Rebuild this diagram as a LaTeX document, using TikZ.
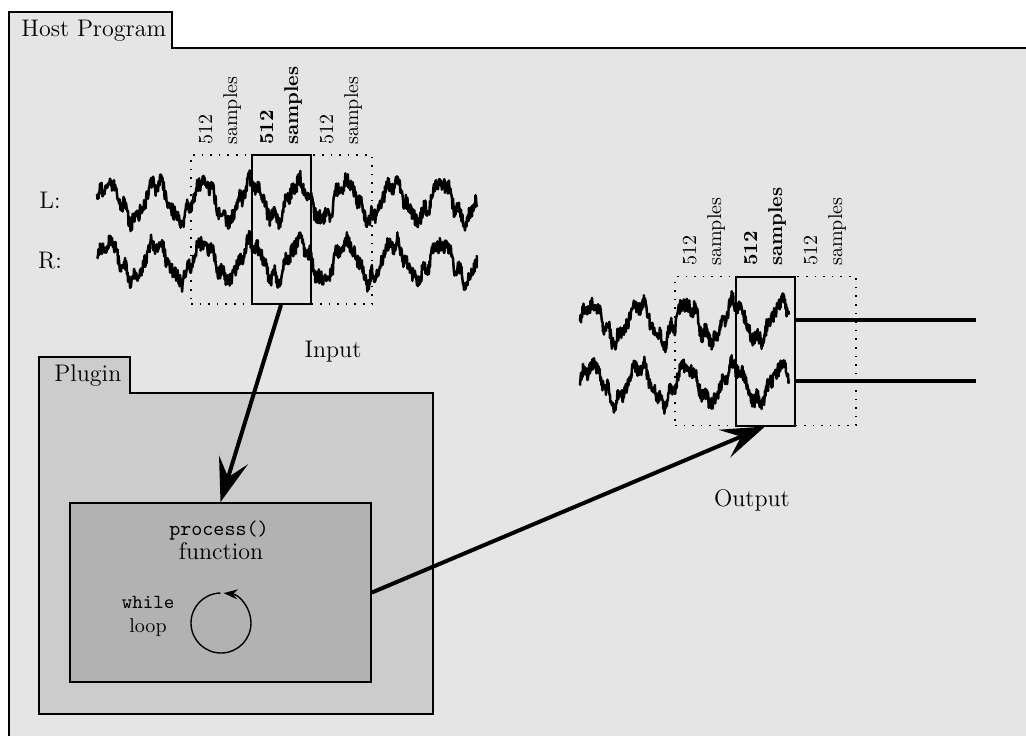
\documentclass[tikz,border=0pt]{standalone}
\usepackage{xcolor}
\usepackage{tikz}
\usetikzlibrary{positioning, arrows.meta}

\definecolor{hostgray}{gray}{0.90}
\definecolor{plugingray}{gray}{0.80}
\definecolor{processgray}{gray}{0.70}

% noisy sine from x=#1 to x=#2 around height #3, #4 samples
\newcommand{\noisywave}[4]{
  \draw[wave] plot[domain=#1:#2, samples=#4]
    (\x, {#3 + 18*sin(7.58*(\x-#1)) + 4*sin(29*(\x-#1)) + 3*sin(41*(\x-#1)) + 15*(rnd-0.5)});
}

\begin{document}
\begin{tikzpicture}[
        x=0.5pt,
        y=0.5pt,
        every node/.style={font=\fontsize{12}{14}\selectfont},
        folder/.style={draw, line width=0.9pt},
        wave/.style={line width=1.25pt, line join=round},
        block/.style={rectangle, draw, line width=1pt, minimum width=29.5pt,
        minimum height=74.5pt, inner sep=0pt},
        window/.style={rectangle, draw, line width=0.8pt, dash pattern=on 0.8pt off 3.5pt,
        minimum width=90.5pt, minimum height=74.5pt, inner sep=0pt},
        sizelabel/.style={rotate=90, anchor=west, align=left, inner sep=0pt,
        font=\fontsize{10}{12.5}\selectfont},
        flow/.style={line width=2pt, -{Stealth[length=22pt, width=15pt, inset=9pt]}},
        channel/.style={line width=2pt},
        ttlabel/.style={font=\fontsize{10}{12}\ttfamily},
      ]
      \useasboundingbox (0,0) rectangle (1026,735);

      % host and plugin folders
      \draw[folder, fill=hostgray] (9,-5) -- (9,723) -- (172,723) -- (172,687) -- (1031,687)
        -- (1031,-5) -- cycle;
      \draw[folder, fill=plugingray] (39,21) -- (39,378) -- (130,378) -- (130,342) -- (433,342)
        -- (433,21) -- cycle;
      \node[anchor=base west, inner sep=0pt] (hostlabel) at (21,698) {Host Program};
      \node[anchor=base west, inner sep=0pt] (pluginlabel) at (54,354) {Plugin};

      % process box
      \node[rectangle, draw, fill=processgray, line width=0.9pt, minimum width=150.5pt,
        minimum height=89.5pt, inner sep=0pt] (processbox) at (220.5,142.5) {};
      \node[ttlabel, font=\fontsize{10.5}{12}\ttfamily, anchor=base] (processlabel) at (219,200) {process()};
      \node[anchor=base] (functionlabel) at (221,176) {function};
      \node[ttlabel, anchor=base] (whilelabel) at (148,127) {while};
      \node[font=\fontsize{10}{12}\selectfont, anchor=base] (looplabel) at (148,103) {loop};
      \coordinate (loopcentre) at (221,112);
      \draw[line width=0.7pt, -{Stealth[length=7pt, width=5pt]}] (loopcentre) ++(91:30)
        arc[start angle=91, end angle=445, radius=30];

      % input audio
      \pgfmathsetseed{512}
      \noisywave{97}{477}{534}{760}
      \noisywave{97}{477}{474}{760}
      \node[window] (inwindow) at (281.5,505.5) {};
      \node[block] (inblock) at (281,505.5) {};
      \node[anchor=base] (leftlabel) at (50,527) {L:};
      \node[anchor=base] (rightlabel) at (50,467) {R:};
      \node[sizelabel] (insizea) at (220,590) {512\\samples};
      \node[sizelabel, font=\fontsize{10}{12.5}\bfseries] (insizeb) at (281,590) {512\\samples};
      \node[sizelabel] (insizec) at (341,590) {512\\samples};
      \node[anchor=base] (inputlabel) at (333,378) {Input};

      % output audio
      \noisywave{580}{789}{413}{420}
      \noisywave{580}{789}{351}{420}
      \node[window] (outwindow) at (765.5,384) {};
      \node[block] (outblock) at (765,384) {};
      \node[sizelabel] (outsizea) at (704,469) {512\\samples};
      \node[sizelabel, font=\fontsize{10}{12.5}\bfseries] (outsizeb) at (765,469) {512\\samples};
      \node[sizelabel] (outsizec) at (825,469) {512\\samples};
      \node[anchor=base] (outputlabel) at (752,229) {Output};

      % connections
      \coordinate (outleft) at (976,415);
      \coordinate (outright) at (976,354);
      \draw[channel] (outblock.east |- outleft) -- (outleft);
      \draw[channel] (outblock.east |- outright) -- (outright);
      \draw[flow] (inblock.south) -- (processbox.north);
      \draw[flow] (processbox.east) -- (outblock.south);

    \end{tikzpicture}
\end{document}
